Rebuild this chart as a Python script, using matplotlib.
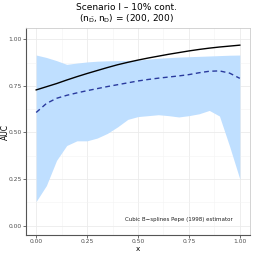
import matplotlib
matplotlib.use("Agg")
import matplotlib.pyplot as plt
import numpy as np

# grid of x values
x = [0.00, 0.05, 0.10, 0.15, 0.20, 0.25, 0.30, 0.35, 0.40, 0.45, 0.50,
     0.55, 0.60, 0.65, 0.70, 0.75, 0.80, 0.85, 0.90, 0.95, 1.00]

# true AUC curve (solid black)
auc_true = [0.728, 0.745, 0.762, 0.781, 0.799, 0.816, 0.832, 0.848, 0.863, 0.876, 0.888,
            0.899, 0.909, 0.919, 0.928, 0.937, 0.945, 0.952, 0.958, 0.963, 0.968]

# mean estimate (dashed blue)
auc_est = [0.607, 0.655, 0.683, 0.699, 0.712, 0.724, 0.735, 0.746, 0.756, 0.766, 0.776,
           0.784, 0.791, 0.797, 0.803, 0.810, 0.820, 0.828, 0.830, 0.818, 0.790]

# band limits
band_lo = [0.130, 0.215, 0.350, 0.430, 0.455, 0.455, 0.470, 0.495, 0.530, 0.570, 0.585,
           0.590, 0.595, 0.590, 0.583, 0.590, 0.600, 0.618, 0.588, 0.425, 0.250]
band_hi = [0.915, 0.902, 0.885, 0.865, 0.872, 0.878, 0.882, 0.884, 0.885, 0.886, 0.888,
           0.893, 0.898, 0.901, 0.904, 0.906, 0.908, 0.910, 0.912, 0.914, 0.915]

fig = plt.figure(figsize=(2.54, 2.54), dpi=100)
ax = fig.add_axes([26/254, 19/254, 224/254, 207/254])

ax.fill_between(x, band_lo, band_hi, color='#bfdfff', linewidth=0, zorder=2)
ax.plot(x, auc_true, color='black', linewidth=1.0, zorder=3)
ax.plot(x, auc_est, color='#2a3a9e', linewidth=1.0, linestyle=(0, (3.5, 2.5)), zorder=3)

ax.set_xlim(-0.05, 1.05)
ax.set_ylim(-0.05, 1.06)
ax.set_xticks([0, 0.25, 0.5, 0.75, 1.0])
ax.set_yticks([0, 0.25, 0.5, 0.75, 1.0])
ax.set_xticklabels(['0.00', '0.25', '0.50', '0.75', '1.00'])
ax.set_yticklabels(['0.00', '0.25', '0.50', '0.75', '1.00'])
ax.set_xticks([0.125, 0.375, 0.625, 0.875], minor=True)
ax.set_yticks([0.125, 0.375, 0.625, 0.875], minor=True)
ax.grid(True, which='major', color='#ebebeb', linewidth=0.6, zorder=0)
ax.grid(True, which='minor', color='#f3f3f3', linewidth=0.4, zorder=0)
ax.set_axisbelow(True)
ax.tick_params(which='major', labelsize=4.3, labelcolor='#4d4d4d', color='#333333',
               length=2, width=0.5, pad=1)
ax.tick_params(which='minor', length=0)

for side in ['top', 'right']:
    ax.spines[side].set_color('#cccccc')
    ax.spines[side].set_linewidth(0.6)
for side in ['left', 'bottom']:
    ax.spines[side].set_color('#555555')
    ax.spines[side].set_linewidth(0.8)

ax.set_xlabel('x', fontsize=5.2, va='center')
ax.set_ylabel('AUC', fontsize=5.5)
ax.yaxis.set_label_coords(-0.072, 0.5)
ax.xaxis.set_label_coords(0.5, -0.066)

ax.text(0.70, 0.02, 'Cubic B\u2212splines Pepe (1998) estimator', fontsize=4,
        ha='center', va='bottom', color='#222222')

fig.text(0.5, 1 - 7/254, 'Scenario I \u2013 10% cont.', ha='center', va='center', fontsize=6.5)
fig.text(0.5, 1 - 19/254, r'$(\mathrm{n}_{\bar{\mathrm{D}}}, \mathrm{n}_{\mathrm{D}})$ = (200, 200)',
         ha='center', va='center', fontsize=6.5)

fig.savefig('out.png', dpi=100)
